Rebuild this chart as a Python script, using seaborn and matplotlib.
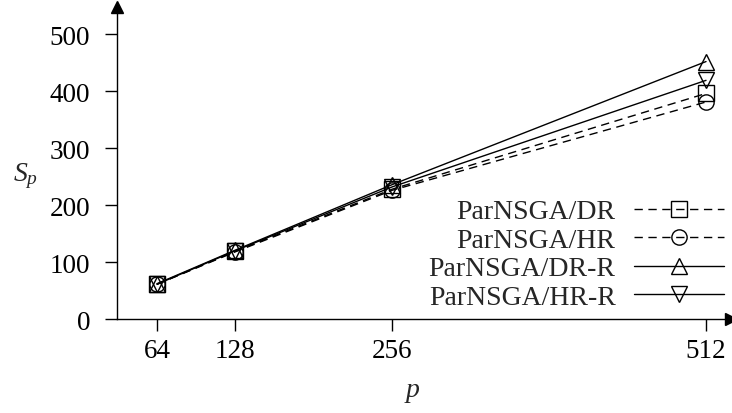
import pandas as pd
import matplotlib
matplotlib.use("Agg")
import matplotlib.pyplot as plt
import seaborn as sns

# valores
procs = [64, 128, 256, 512]
series = ["ParNSGA/DR", "ParNSGA/HR", "ParNSGA/DR-R", "ParNSGA/HR-R"]
sp_dr = [61, 119, 228, 396]
sp_hr = [61, 118, 226, 381]
sp_dr_r = [62, 121, 236, 452]
sp_hr_r = [61, 120, 232, 419]

df = pd.DataFrame({
    "p": procs * 4,
    "Sp": sp_dr + sp_hr + sp_dr_r + sp_hr_r,
    "serie": [s for s in series for _ in procs],
})

sns.set_style("white")
plt.rcParams["font.family"] = ["Liberation Serif", "DejaVu Serif"]
plt.rcParams["mathtext.fontset"] = "custom"
plt.rcParams["mathtext.it"] = "Liberation Serif:italic"
plt.rcParams["mathtext.rm"] = "Liberation Serif"

fig = plt.figure(figsize=(7.32, 4.14), dpi=100)
ax = fig.add_axes([0.160, 0.227, 0.838, 0.754])

estilos = {
    "ParNSGA/DR": ("s", (0, (6, 4))),
    "ParNSGA/HR": ("o", (0, (6, 4))),
    "ParNSGA/DR-R": ("^", "-"),
    "ParNSGA/HR-R": ("v", "-"),
}
for s in series:
    mk, ls = estilos[s]
    sns.lineplot(data=df[df["serie"] == s], x="p", y="Sp", ax=ax, color="black",
                 marker=mk, linestyle=ls, linewidth=1, markersize=11,
                 markerfacecolor="none", markeredgecolor="black",
                 markeredgewidth=1, label=s)

ax.set_xlim(31.5, 532)
ax.set_ylim(0, 548)
ax.set_xticks(procs)
ax.set_yticks([0, 100, 200, 300, 400, 500])
ax.tick_params(axis="both", direction="out", length=8.5, width=1, labelsize=19.5,
               colors="black", bottom=True, left=True)
ax.tick_params(axis="y", pad=11)
ax.tick_params(axis="x", pad=5)
for sp in ["top", "right"]:
    ax.spines[sp].set_visible(False)
for sp in ["left", "bottom"]:
    ax.spines[sp].set_linewidth(1)
    ax.spines[sp].set_color("black")

# setas nas pontas dos eixos
ax.plot(1, 0, ">k", transform=ax.transAxes, clip_on=False, markersize=8)
ax.plot(0, 1, "^k", transform=ax.transAxes, clip_on=False, markersize=8)

ax.set_xlabel("")
ax.set_ylabel("")
fig.text(412 / 732, 1 - 393 / 414, "$p$", fontsize=20, ha="center", va="center")
fig.text(26 / 732, 1 - 176 / 414, "$S_p$", fontsize=20, ha="center", va="center")

leg = ax.legend(loc="upper right", bbox_to_anchor=(724 / 732, 1 - 200 / 414),
                bbox_transform=fig.transFigure, frameon=False, markerfirst=False,
                fontsize=20, handlelength=3.25, handletextpad=0.65,
                labelspacing=0.11, borderpad=0, borderaxespad=0)
for t in leg.get_texts():
    t.set_ha("right")

fig.savefig("out.png", dpi=100)
